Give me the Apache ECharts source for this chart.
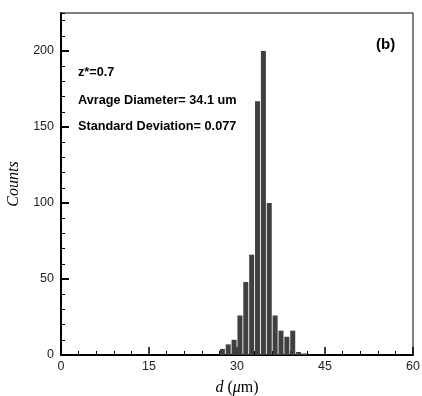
<!DOCTYPE html>
<html><head><meta charset="utf-8">
<script src="https://cdn.jsdelivr.net/npm/echarts@6/dist/echarts.min.js"></script>
<style>html,body{margin:0;padding:0;background:#fff}#c{width:422px;height:396px}</style>
</head><body><div id="c"></div>
<script>
const binCenters = [27.5, 28.5, 29.5, 30.5, 31.5, 32.5, 33.5, 34.5, 35.5, 36.5, 37.5, 38.5, 39.5, 40.5, 41.5];
const counts = [4, 7, 10, 26, 48, 66, 167, 200, 100, 26, 16, 12, 16, 2, 1];
const annotations = ['z*=0.7', 'Avrage Diameter= 34.1 um', 'Standard Deviation= 0.077'];
const panelLabel = '(b)';

const chart = echarts.init(document.getElementById('c'), null, {renderer: 'canvas'});
const tickFont = {fontFamily: 'Liberation Sans', fontSize: 12.5, color: '#222'};
chart.setOption({
  animation: false,
  grid: {left: 61, right: 9, top: 13, bottom: 41, show: true, borderColor: '#000', borderWidth: 1,
    backgroundColor: 'transparent', containLabel: false, outerBoundsMode: 'none'},
  xAxis: {
    type: 'value', min: 0, max: 60, interval: 15,
    axisLine: {show: true, lineStyle: {color: '#000', width: 2}},
    axisTick: {inside: true, length: 8, lineStyle: {color: '#000', width: 1.5}},
    minorTick: {show: true, splitNumber: 5, length: 4, lineStyle: {color: '#000', width: 1}},
    splitLine: {show: false},
    axisLabel: Object.assign({margin: 5}, tickFont),
    name: '{i|d} ({i|μ}m)', nameLocation: 'middle', nameGap: 25,
    nameTextStyle: {fontFamily: 'Liberation Serif', fontSize: 16, color: '#000',
      rich: {i: {fontFamily: 'Liberation Serif', fontStyle: 'italic', fontSize: 16, color: '#000'}}}
  },
  yAxis: [{
    type: 'value', min: 0, max: 225, interval: 50, position: 'left',
    axisLine: {show: true, lineStyle: {color: '#000', width: 2}},
    axisTick: {inside: true, length: 8, lineStyle: {color: '#000', width: 2}},
    splitLine: {show: false},
    axisLabel: Object.assign({margin: 7, showMaxLabel: false}, tickFont),
    name: 'Counts', nameLocation: 'middle', nameGap: 34, nameRotate: 90,
    nameTextStyle: {fontFamily: 'Liberation Serif', fontStyle: 'italic', fontSize: 16, color: '#000'}
  }, {
    type: 'value', min: 0, max: 225, interval: 10, position: 'left',
    axisLine: {show: false},
    axisTick: {show: true, inside: true, length: 4, lineStyle: {color: '#000', width: 1}},
    axisLabel: {show: false}, splitLine: {show: false}
  }],
  series: [{
    type: 'bar', yAxisIndex: 0, barWidth: 5,
    itemStyle: {color: '#404040'},
    data: binCenters.map((x, i) => [x, counts[i]])
  }],
  graphic: [
    {type: 'text', left: 78, top: 66, style: {text: annotations[0], font: 'bold 12.7px "Liberation Sans"', fill: '#000'}},
    {type: 'text', left: 78, top: 94, style: {text: annotations[1], font: 'bold 12.7px "Liberation Sans"', fill: '#000'}},
    {type: 'text', left: 78, top: 120, style: {text: annotations[2], font: 'bold 12.7px "Liberation Sans"', fill: '#000'}},
    {type: 'text', left: 376, top: 37, style: {text: panelLabel, font: 'bold 15px "Liberation Sans"', fill: '#000'}}
  ]
});
</script></body></html>
